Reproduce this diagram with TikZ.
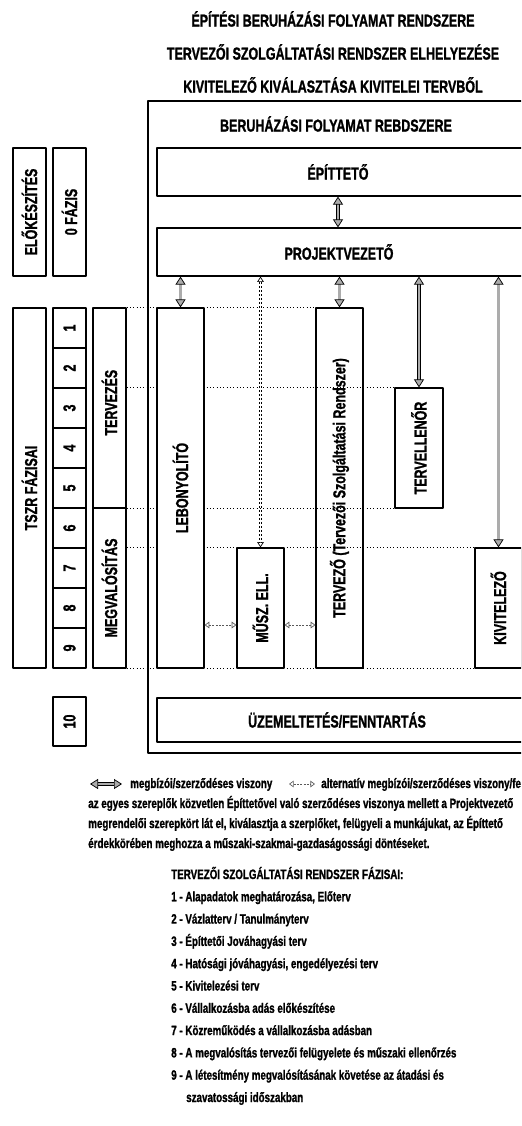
\documentclass[tikz,border=0pt]{standalone}
\usepackage{fontspec}
\setmainfont{Liberation Sans}[FakeStretch=0.72,BoldFeatures={FakeBold=1.2}]
\usetikzlibrary{arrows.meta,fit}

\tikzset{
  cell/.style={draw, line width=0.9pt, fill=white, inner sep=0pt},
  vlab/.style={rotate=90, font=\fontsize{13}{15}\selectfont\bfseries, inner sep=0pt},
  hlab/.style={font=\fontsize{13}{15}\selectfont\bfseries, inner sep=0pt},
  txt/.style={font=\fontsize{10.2}{12}\selectfont\bfseries, anchor=base west, inner sep=0pt},
  rel/.style={line width=0.55pt, double=gray!65, double distance=1.8pt,
    {Triangle[fill=gray!65,length=6pt,width=7.5pt]}-{Triangle[fill=gray!65,length=6pt,width=7.5pt]}},
  alt/.style={dash pattern=on 2pt off 1pt, line width=0.5pt, double, double distance=0.9pt,
    {Triangle[open,length=4pt,width=5pt]}-{Triangle[open,length=4pt,width=5pt]}},
  altr/.style={dash pattern=on 1.5pt off 1pt, line width=0.7pt, gray!70!black,
    {Triangle[open,length=3.5pt,width=5pt,line width=0.5pt]}-{Triangle[open,length=3.5pt,width=5pt,line width=0.5pt]}},
  guide/.style={dotted, line width=0.5pt},
}

\begin{document}
\begin{tikzpicture}[x=0.75pt,y=-0.75pt,line join=round]
  \useasboundingbox (0,0) rectangle (521,1126);
  \clip (0,0) rectangle (521,1126);
  % titles
  \node[hlab] (cim1) at (333,19) {ÉPÍTÉSI BERUHÁZÁSI FOLYAMAT RENDSZERE};
  \node[hlab] (cim2) at (333,52) {TERVEZŐI SZOLGÁLTATÁSI RENDSZER ELHELYEZÉSE};
  \node[hlab] (cim3) at (333,85) {KIVITELEZŐ KIVÁLASZTÁSA KIVITELEI TERVBŐL};
  \node[hlab] (cim4) at (336,124) {BERUHÁZÁSI FOLYAMAT REBDSZERE};

  % inner boxes (placed first, guides hide behind them)
  \node[cell, fit={(157,148) (540,196)}] (epit) {};
  \node[hlab] (epitlab) at (338,172) {ÉPÍTTETŐ};
  \node[cell, fit={(157,228) (540,276)}] (proj) {};
  \node[hlab] (projlab) at (339,252) {PROJEKTVEZETŐ};
  \node[cell, fit={(93,308) (126,508)}] (tervezes) {};
  \node[cell, fit={(93,508) (126,668)}] (megval) {};
  \node[cell, fit={(395,388) (443,508)}] (tvell) {};
  \node[cell, fit={(475,548) (522,668)}] (kivit) {};
  \node[cell, fit={(316,308) (363,668)}] (tervezo) {};

  % dotted phase guides
  \draw[guide] (tervezes.north east) -- (tervezo.north west);
  \draw[guide] (tervezes.east |- tvell.north) -- (tvell.north west);
  \draw[guide] (tervezes.south east) -- (tvell.south west);
  \draw[guide] (megval.east |- kivit.north) -- (kivit.north west);
  \draw[guide] (megval.south east) -- (kivit.south west);

  % frame
  \draw[line width=1.5pt] (148,101) rectangle (545,753);

  % left columns
  \node[cell, fit={(13,148) (46,276)}] (elok) {};
  \node[vlab] (eloklab) at (elok) {ELŐKÉSZÍTÉS};
  \node[cell, fit={(53,148) (86,276)}] (nulla) {};
  \node[vlab] (nullalab) at (nulla) {0 FÁZIS};
  \node[cell, fit={(13,308) (46,668)}] (tszr) {};
  \node[vlab] (tszrlab) at (tszr) {TSZR FÁZISAI};
  \foreach \i in {1,...,9}{
    \node[cell, fit={(53,{268+40*\i}) (86,{308+40*\i})}] (ph\i) {};
    \node[vlab] (phlab\i) at (ph\i) {\i};
  }
  \node[vlab] (tervezeslab) at ([yshift=4pt]tervezes.center) {TERVEZÉS};
  \node[vlab] (megvallab) at (megval) {MEGVALÓSÍTÁS};
  \node[cell, fit={(53,697) (86,746)}] (tiz) {};
  \node[vlab] (tizlab) at (tiz) {10};

  % actors
  \node[cell, fit={(157,308) (204,668)}] (lebony) {};
  \node[vlab] (lebonylab) at (lebony) {LEBONYOLÍTÓ};
  \node[cell, fit={(237,548) (284,668)}] (muszell) {};
  \node[vlab] (muszelllab) at (muszell) {MŰSZ. ELL.};
  \node[vlab] (tervezolab) at (tervezo) {TERVEZŐ (Tervezői Szolgáltatási Rendszer)};
  \node[vlab] (tvelllab) at (tvell) {TERVELLENŐR};
  \node[vlab] (kivitlab) at (kivit) {KIVITELEZŐ};
  \node[cell, fit={(157,698) (540,742)}] (uzem) {};
  \node[hlab] (uzemlab) at (337,720) {ÜZEMELTETÉS/FENNTARTÁS};

  % relations
  \draw[rel] (epit.south -| epitlab) -- (proj.north -| epitlab);
  \draw[rel] (proj.south -| lebony) -- (lebony.north);
  \draw[alt] (proj.south -| muszell) -- (muszell.north);
  \draw[rel] (proj.south -| tervezo) -- (tervezo.north);
  \draw[rel] (proj.south -| tvell) -- (tvell.north);
  \draw[rel] (proj.south -| kivit) -- (kivit.north);
  \coordinate (altsor) at (0,625);
  \draw[altr] (lebony.east |- altsor) -- (muszell.west |- altsor);
  \draw[altr] (muszell.east |- altsor) -- (tervezo.west |- altsor);

  % legend and notes
  \coordinate (jel1a) at (90,784);
  \coordinate (jel1b) at (122,784);
  \draw[rel] (jel1a) -- (jel1b);
  \node[txt] (jel1) at (130,788) {megbízói/szerződéses viszony};
  \coordinate (jel2a) at (289,784);
  \coordinate (jel2b) at (315,784);
  \draw[altr] (jel2a) -- (jel2b);
  \node[txt] (jel2) at (321,788) {alternatív megbízói/szerződéses viszony/felda};
  \node[txt] (sz1) at (88,808) {az egyes szereplők közvetlen Építtetővel való szerződéses viszonya mellett a Projektvezető};
  \node[txt] (sz2) at (88,828) {megrendelői szerepkört lát el, kiválasztja a szerplőket, felügyeli a munkájukat, az Építtető};
  \node[txt] (sz3) at (88,848) {érdekkörében meghozza a műszaki-szakmai-gazdaságossági döntéseket.};
  \node[txt] (fej) at (171,879) {TERVEZŐI SZOLGÁLTATÁSI RENDSZER FÁZISAI:};
  \foreach \n/\t [count=\k] in {1/{Alapadatok meghatározása, Előterv},
      2/{Vázlatterv / Tanulmányterv},
      3/{Építtetői Jováhagyási terv},
      4/{Hatósági jóváhagyási, engedélyezési terv},
      5/{Kivitelezési terv},
      6/{Vállalkozásba adás előkészítése},
      7/{Közreműködés a vállalkozásba adásban},
      8/{A megvalósítás tervezői felügyelete és műszaki ellenőrzés},
      9/{A létesítmény megvalósításának követése az átadási és}}{
    \node[txt] (fazis\k) at (171,{879+22.3*\k}) {\n\ - \t};
  }
  \node[txt] (fazis10) at (186,{879+22.3*10}) {szavatossági időszakban};
\end{tikzpicture}
\end{document}
